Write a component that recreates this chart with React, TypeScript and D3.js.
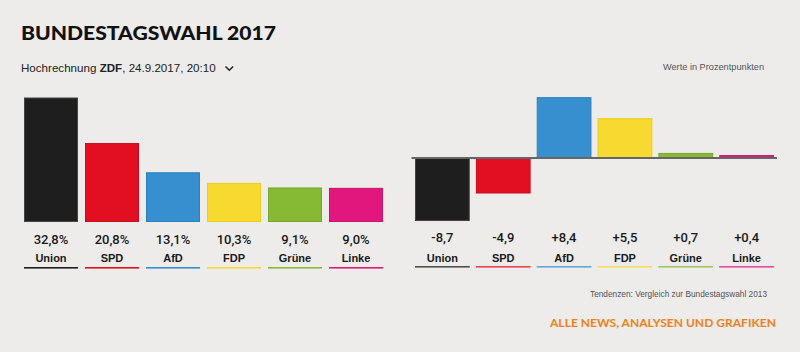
import React from "react";
import * as d3 from "d3";

const parties = ["Union", "SPD", "AfD", "FDP", "Grüne", "Linke"];
const colors = ["#1e1e1e", "#e20e22", "#368fcf", "#f8d92f", "#86ba33", "#e2177e"];
const strokes = ["#444444", "#c80d1e", "#2f80bb", "#eccc1c", "#77a82b", "#c9136f"];
const results = [32.8, 20.8, 13.1, 10.3, 9.1, 9.0];
const resultLabels = ["32,8%", "20,8%", "13,1%", "10,3%", "9,1%", "9,0%"];
const changes = [-8.7, -4.9, 8.4, 5.5, 0.7, 0.4];
const changeLabels = ["-8,7", "-4,9", "+8,4", "+5,5", "+0,7", "+0,4"];

const W = 800;
const H = 355;
const BG = "#edecea";
const SANS = "'Liberation Sans', Arial, sans-serif";
const VAL = "Roboto, 'Liberation Sans', sans-serif";

export default function App() {
  const xL = d3.scaleBand().domain(parties).range([24, 383]).paddingInner(0.115).paddingOuter(0);
  const yL = d3.scaleLinear().domain([0, 32.8]).range([222, 97.5]);

  const xR = d3.scaleBand().domain(parties).range([415, 774]).paddingInner(0.1).paddingOuter(0);
  const yR = d3.scaleLinear().domain([-9, 9]).range([158 + 65.2, 158 - 65.2]);

  return (
    <svg
      width={W}
      height={H}
      style={{ position: "absolute", left: 0, top: 0, display: "block" }}
    >
      <rect x={0} y={0} width={W} height={352} fill={BG} />
      <rect x={0} y={352} width={W} height={3} fill="#ffffff" />

      <text
        x={21}
        y={40}
        fontFamily="Lato, 'Open Sans', sans-serif"
        fontWeight={900}
        fontSize={18.5}
        fill="#111"
        textLength={255}
        lengthAdjust="spacingAndGlyphs"
      >
        BUNDESTAGSWAHL 2017
      </text>

      <text x={21} y={72} fontFamily={SANS} fontSize={11.6} fill="#222">
        Hochrechnung <tspan fontWeight="bold">ZDF</tspan>, 24.9.2017, 20:10
      </text>
      <path d="M225.5,66.5 L229.3,70.3 L233.1,66.5" fill="none" stroke="#222" strokeWidth={1.5} />

      <text x={663} y={70} fontFamily={SANS} fontSize={9} fill="#555" textLength={101} lengthAdjust="spacingAndGlyphs">
        Werte in Prozentpunkten
      </text>

      {/* left chart */}
      {parties.map((p, i) => {
        const x = xL(p) as number;
        const bw = xL.bandwidth();
        const cx = x + bw / 2;
        return (
          <g key={"l" + p}>
            <rect
              x={x + 0.5}
              y={yL(results[i]) + 0.5}
              width={bw - 1}
              height={yL(0) - yL(results[i]) - 1}
              fill={colors[i]}
              stroke={strokes[i]}
              strokeWidth={1}
            />
            <text x={cx} y={243.5} textAnchor="middle" fontFamily={VAL} fontWeight={500} fontSize={13} fill="#1a1a1a">
              {resultLabels[i]}
            </text>
            <text x={cx} y={262} textAnchor="middle" fontFamily={SANS} fontWeight="bold" fontSize={11} fill="#1a1a1a">
              {p}
            </text>
            <rect x={x} y={267} width={bw} height={1.6} fill={colors[i]} />
          </g>
        );
      })}

      {/* right chart */}
      {parties.map((p, i) => {
        const x = xR(p) as number;
        const bw = xR.bandwidth();
        const cx = x + bw / 2;
        const v = changes[i];
        const y0 = yR(0);
        const y1 = yR(v);
        const top = Math.min(y0, y1);
        const h = Math.abs(y1 - y0);
        return (
          <g key={"r" + p}>
            <rect
              x={x + 0.5}
              y={top + 0.5}
              width={bw - 1}
              height={Math.max(h - 1, 1)}
              fill={colors[i]}
              stroke={strokes[i]}
              strokeWidth={1}
            />
            <text x={cx} y={242} textAnchor="middle" fontFamily={VAL} fontWeight={500} fontSize={13} fill="#1a1a1a">
              {changeLabels[i]}
            </text>
            <text x={cx} y={261.5} textAnchor="middle" fontFamily={SANS} fontWeight="bold" fontSize={11} fill="#1a1a1a">
              {p}
            </text>
            <rect x={x} y={266} width={bw} height={1.6} fill={colors[i]} opacity={0.75} />
          </g>
        );
      })}
      <line x1={411.5} x2={777} y1={yR(0)} y2={yR(0)} stroke="#666" strokeWidth={1.8} />

      <text x={590} y={297} fontFamily={SANS} fontSize={9} fill="#555" textLength={177} lengthAdjust="spacingAndGlyphs">
        Tendenzen: Vergleich zur Bundestagswahl 2013
      </text>

      <text
        x={776}
        y={327}
        textAnchor="end"
        fontFamily="Lato, 'Open Sans', sans-serif"
        fontWeight={700}
        fontSize={12}
        fill="#f07f17"
        textLength={226}
        lengthAdjust="spacingAndGlyphs"
      >
        ALLE NEWS, ANALYSEN UND GRAFIKEN
      </text>
    </svg>
  );
}
